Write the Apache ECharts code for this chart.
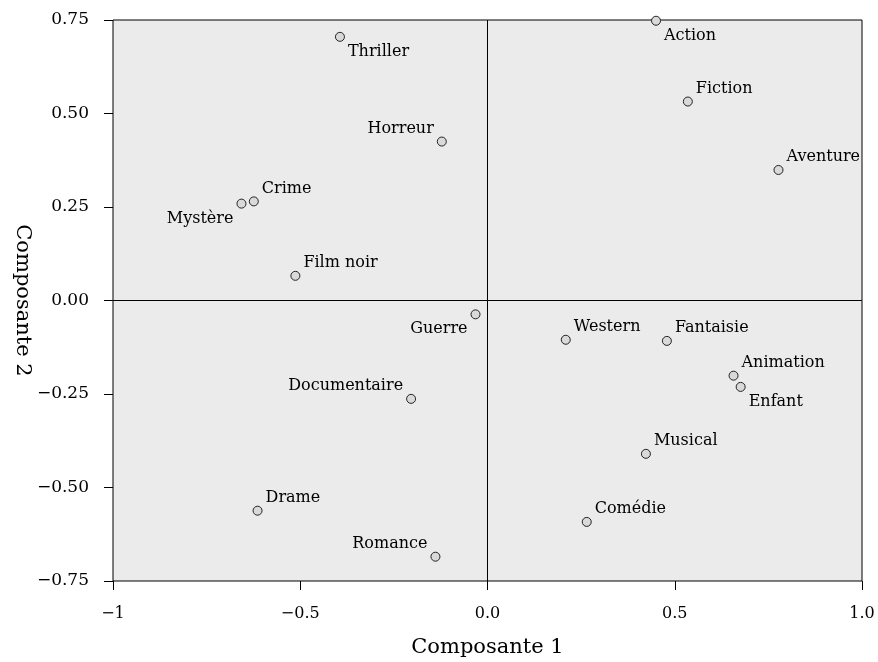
<!DOCTYPE html>
<html>
<head>
<meta charset="utf-8">
<title>Composantes genres</title>
<script src="https://cdn.jsdelivr.net/npm/echarts@6/dist/echarts.min.js"></script>
<style>
  html, body { margin: 0; padding: 0; background: #fff; }
  #chart { width: 878px; height: 662px; }
</style>
</head>
<body>
<div id="chart"></div>
<script>
  // data
  const genres = ['Thriller', 'Horreur', 'Crime', 'Mystère', 'Film noir', 'Action', 'Fiction', 'Aventure', 'Guerre',
    'Documentaire', 'Drame', 'Romance', 'Western', 'Fantaisie', 'Animation', 'Enfant', 'Musical', 'Comédie']
  const comp1 = [-0.394, -0.122, -0.624, -0.657, -0.513, 0.450, 0.535, 0.777, -0.032,
    -0.204, -0.614, -0.139, 0.209, 0.479, 0.657, 0.676, 0.423, 0.265]
  const comp2 = [0.705, 0.425, 0.265, 0.259, 0.066, 0.748, 0.532, 0.349, -0.037,
    -0.263, -0.562, -0.685, -0.105, -0.108, -0.201, -0.231, -0.410, -0.592]
  const xTickLabels = ['\u22121', '\u22120.5', '0.0', '0.5', '1.0']
  const yTickLabels = ['\u22120.75', '\u22120.50', '\u22120.25', '0.00', '0.25', '0.50', '0.75']

  // where each label sits around its point: l/r + t/b
  const labelSide = {
    'Thriller': 'rb', 'Horreur': 'lt', 'Crime': 'rt', 'Mystère': 'lb', 'Film noir': 'rt',
    'Action': 'rb', 'Fiction': 'rt', 'Aventure': 'rt', 'Guerre': 'lb', 'Documentaire': 'lt',
    'Drame': 'rt', 'Romance': 'lt', 'Western': 'rt', 'Fantaisie': 'rt', 'Animation': 'rt',
    'Enfant': 'rb', 'Musical': 'rt', 'Comédie': 'rt'
  }

  const font = 'DejaVu Serif'
  let chart = echarts.init(document.getElementById('chart'))

  let points = genres.map(function (name, i) {
    let side = labelSide[name]
    return {
      name: name,
      value: [comp1[i], comp2[i]],
      label: {
        position: side[0] === 'r' ? 'right' : 'left',
        offset: [0, side[1] === 't' ? -13 : 15]
      }
    }
  })

  let option = {
    animation: false,
    grid: {
      left: 113,
      right: 16,
      top: 20,
      bottom: 81,
      containLabel: false,
      outerBoundsMode: 'none',
      show: true,
      backgroundColor: '#ebebeb',
      borderColor: '#000',
      borderWidth: 1
    },
    xAxis: {
      type: 'value',
      min: -1,
      max: 1,
      interval: 0.5,
      name: 'Composante 1',
      nameLocation: 'middle',
      nameGap: 56,
      nameMoveOverlap: false,
      nameTextStyle: { fontFamily: font, fontSize: 21, color: '#000' },
      axisLine: { show: false, onZero: false },
      axisTick: { show: true, length: 9, lineStyle: { color: '#000' } },
      splitLine: { show: false },
      axisLabel: {
        margin: 25,
        fontFamily: font,
        fontSize: 16,
        color: '#000',
        formatter: function (v) {
          return xTickLabels[Math.round((v + 1) / 0.5)]
        }
      }
    },
    yAxis: {
      type: 'value',
      min: -0.75,
      max: 0.75,
      interval: 0.25,
      name: 'Composante 2',
      nameLocation: 'middle',
      nameRotate: -90,
      nameGap: 80,
      nameMoveOverlap: false,
      nameTextStyle: { fontFamily: font, fontSize: 21, color: '#000' },
      axisLine: { show: false, onZero: false },
      axisTick: { show: true, length: 9, lineStyle: { color: '#000' } },
      splitLine: { show: false },
      axisLabel: {
        margin: 24,
        fontFamily: font,
        fontSize: 17,
        color: '#000',
        formatter: function (v) {
          return yTickLabels[Math.round((v + 0.75) / 0.25)]
        }
      }
    },
    series: [{
      type: 'scatter',
      data: points,
      symbol: 'circle',
      symbolSize: 9,
      itemStyle: {
        color: '#d9d9d9',
        borderColor: '#222',
        borderWidth: 1,
        opacity: 1
      },
      label: {
        show: true,
        distance: 3,
        formatter: '{b}',
        fontFamily: font,
        fontSize: 16,
        color: '#000'
      },
      markLine: {
        silent: true,
        symbol: 'none',
        label: { show: false },
        lineStyle: { color: '#000', width: 1, type: 'solid' },
        data: [{ xAxis: 0 }, { yAxis: 0 }]
      }
    }]
  }
  chart.setOption(option)
</script>
</body>
</html>
